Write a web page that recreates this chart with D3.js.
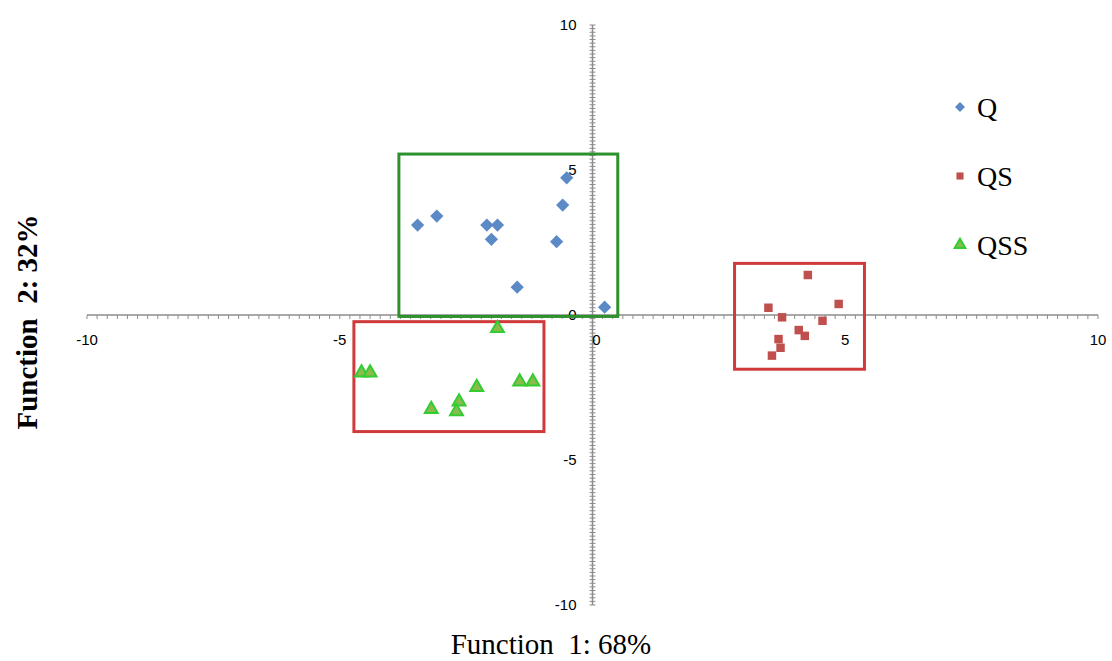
<!DOCTYPE html>
<html lang="en">
<head>
<meta charset="utf-8">
<title>Discriminant functions</title>
<script src="https://cdn.jsdelivr.net/npm/d3@7"></script>
<style>
body { margin: 0; background: #fff; }
.tick-label { font-family: "Liberation Sans", Arial, sans-serif; font-size: 15px; fill: #000; }
.legend-label { font-family: "Liberation Serif", "Times New Roman", serif; font-size: 28px; fill: #000; }
.axis-title { font-family: "Liberation Serif", "Times New Roman", serif; font-size: 29px; fill: #000; }
</style>
</head>
<body>
<script>
// series values (Function 1, Function 2)
var seriesNames = ["Q", "QS", "QSS"];
var qX = [-3.46, -3.08, -2.09, -1.88, -2.00, -1.49, -0.71, -0.59, -0.51, 0.24];
var qY = [3.10, 3.41, 3.10, 3.10, 2.61, 0.96, 2.53, 3.79, 4.73, 0.27];
var qsX = [4.26, 3.48, 3.75, 4.87, 4.55, 4.08, 4.20, 3.68, 3.72, 3.55];
var qsY = [1.38, 0.25, -0.08, 0.38, -0.20, -0.52, -0.72, -0.83, -1.13, -1.40];
var qssX = [-1.88, -4.57, -4.40, -2.29, -1.44, -1.18, -2.64, -2.69, -3.19];
var qssY = [-0.46, -1.99, -1.99, -2.49, -2.30, -2.30, -2.99, -3.33, -3.25];
var xTicks = [-10, -5, 0, 5, 10];
var yTicks = [-10, -5, 0, 5, 10];
// group boxes [x0, x1, y0, y1]
var boxGreen = [-3.83, 0.50, -0.05, 5.55];
var boxRedLeft = [-4.72, -0.96, -4.02, -0.23];
var boxRedRight = [2.81, 5.38, -1.87, 1.78];

var w = 1112, h = 661;
var svg = d3.select("body").append("svg")
    .attr("width", w)
    .attr("height", h);

var x = d3.scaleLinear().domain([-10, 10]).range([87, 1098]);
var y = d3.scaleLinear().domain([-10, 10]).range([605, 25]);

var axisColor = "#8c8c8c";

// axes through origin
var axes = svg.append("g");
axes.append("line")
    .attr("x1", x(-10)).attr("x2", x(10))
    .attr("y1", y(0)).attr("y2", y(0))
    .attr("stroke", axisColor).attr("stroke-width", 1.5);
axes.append("line")
    .attr("x1", x(0)).attr("x2", x(0))
    .attr("y1", y(10)).attr("y2", y(-10))
    .attr("stroke", axisColor).attr("stroke-width", 1.5);

// minor ticks
var xMinor = d3.range(-10, 10.001, 0.2);
axes.selectAll(".xt").data(xMinor).enter().append("line")
    .attr("x1", d => x(d)).attr("x2", d => x(d))
    .attr("y1", y(0)).attr("y2", y(0) + 4)
    .attr("stroke", axisColor).attr("stroke-width", 1);
var yMinor = d3.range(-10, 10.001, 0.125);
axes.selectAll(".yt").data(yMinor).enter().append("line")
    .attr("x1", x(0) - 3).attr("x2", x(0) + 3)
    .attr("y1", d => y(d)).attr("y2", d => y(d))
    .attr("stroke", axisColor).attr("stroke-width", 1);

// tick labels
svg.selectAll(".xl").data(xTicks).enter().append("text")
    .attr("class", "tick-label")
    .attr("x", d => x(d) + (d === 0 ? 4 : 0))
    .attr("y", y(0) + 30)
    .attr("text-anchor", "middle")
    .text(d => d);
svg.selectAll(".yl").data(yTicks).enter().append("text")
    .attr("class", "tick-label")
    .attr("x", x(0) - 16)
    .attr("y", d => y(d) + 5)
    .attr("text-anchor", "end")
    .text(d => d);

// boxes
function box(b, color) {
    svg.append("rect")
        .attr("x", x(b[0]))
        .attr("y", y(b[3]))
        .attr("width", x(b[1]) - x(b[0]))
        .attr("height", y(b[2]) - y(b[3]))
        .attr("fill", "none")
        .attr("stroke", color)
        .attr("stroke-width", 3);
}
box(boxGreen, "#2e912e");
box(boxRedLeft, "#d03a3a");
box(boxRedRight, "#d03a3a");

// markers
var diamond = d3.symbol().type(d3.symbolSquare).size(88);   // rotated 45deg
var square = d3.symbol().type(d3.symbolSquare).size(72);
var triangle = d3.symbol().type(d3.symbolTriangle).size(72);

svg.selectAll(".q").data(d3.zip(qX, qY)).enter().append("path")
    .attr("d", diamond)
    .attr("transform", d => "translate(" + x(d[0]) + "," + y(d[1]) + ") rotate(45)")
    .attr("fill", "#5b8ac6");
svg.selectAll(".qs").data(d3.zip(qsX, qsY)).enter().append("path")
    .attr("d", square)
    .attr("transform", d => "translate(" + x(d[0]) + "," + y(d[1]) + ")")
    .attr("fill", "#c0504d");
svg.selectAll(".qss").data(d3.zip(qssX, qssY)).enter().append("path")
    .attr("d", triangle)
    .attr("transform", d => "translate(" + x(d[0]) + "," + y(d[1]) + ")")
    .attr("fill", "#8bbb4a")
    .attr("stroke", "#33cc33")
    .attr("stroke-width", 2);

// legend
var legendY = [107, 176, 245];
var legendSym = [
    d3.symbol().type(d3.symbolSquare).size(50),
    d3.symbol().type(d3.symbolSquare).size(50),
    d3.symbol().type(d3.symbolTriangle).size(50)
];
var legendRot = [45, 0, 0];
var legendFill = ["#5b8ac6", "#c0504d", "#8bbb4a"];
var lg = svg.append("g");
seriesNames.forEach(function(name, i) {
    var m = lg.append("path")
        .attr("d", legendSym[i])
        .attr("transform", "translate(960," + legendY[i] + ") rotate(" + legendRot[i] + ")")
        .attr("fill", legendFill[i]);
    if (i === 2) m.attr("stroke", "#33cc33").attr("stroke-width", 2);
    lg.append("text")
        .attr("class", "legend-label")
        .attr("x", 977)
        .attr("y", legendY[i] + 10)
        .text(name);
});

// axis titles
svg.append("text")
    .attr("class", "axis-title")
    .attr("x", 551)
    .attr("y", 654)
    .attr("text-anchor", "middle")
    .style("white-space", "pre")
    .text("Function  1: 68%");
svg.append("text")
    .attr("class", "axis-title")
    .attr("transform", "translate(37,322) rotate(-90)")
    .attr("text-anchor", "middle")
    .attr("font-weight", "bold")
    .style("white-space", "pre")
    .text("Function  2: 32%");
</script>
</body>
</html>
